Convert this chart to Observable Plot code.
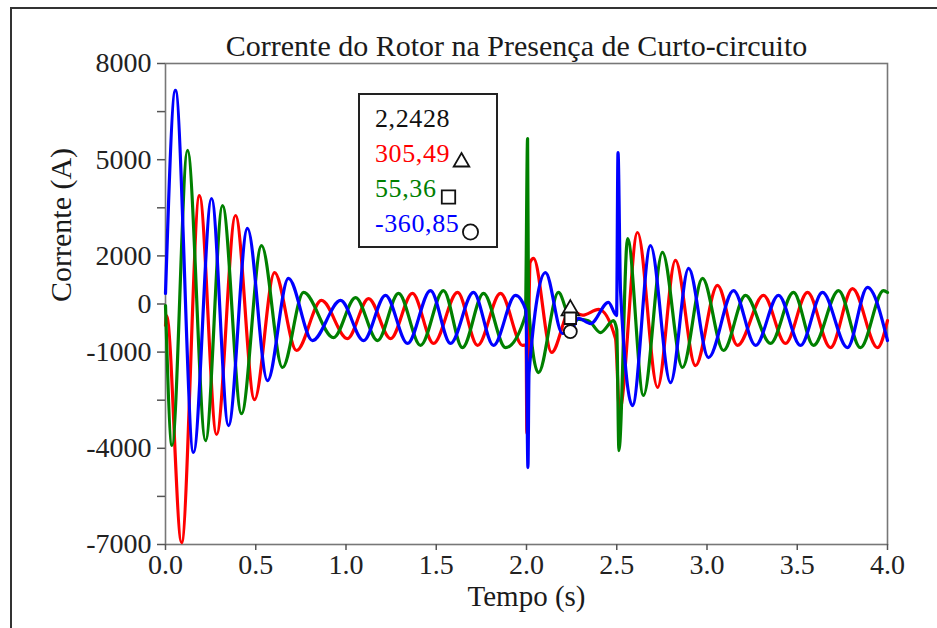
<!DOCTYPE html>
<html>
<head>
<meta charset="utf-8">
<script src="https://cdn.jsdelivr.net/npm/d3@7"></script>
<script src="https://cdn.jsdelivr.net/npm/@observablehq/plot@0.6"></script>
<style>
  html, body { margin: 0; padding: 0; background: #fff; }
  #page { position: relative; width: 937px; height: 628px; overflow: hidden; background: #fff; }
  #edge { position: absolute; left: 10px; top: 7px; width: 960px; height: 660px;
          border-left: 2px solid #333; border-top: 2px solid #333; }
  #chart { position: absolute; left: 0; top: 0; }
  #readout { position: absolute; left: 358px; top: 93px; width: 136px; height: 151px;
             border: 2px solid #222; background: #fff;
             font-family: "Liberation Serif", "Times New Roman", serif; font-size: 26px;
             letter-spacing: 0.6px; }
  #readout .row { position: absolute; left: 15px; white-space: nowrap; line-height: 1; }
  #readout svg { vertical-align: -8px; margin-left: 3px; overflow: visible; }
</style>
</head>
<body>
<div id="page">
  <div id="edge"></div>
  <div id="chart"></div>
  <div id="readout"></div>
</div>
<script>
// Rotor phase currents [time (s), current (A)] — peaks, troughs and fault transients
const phaseA = [
  [0, -170], [0.006, 140], [0.089, -6940], [0.188, 3880], [0.283, -3570], [0.388, 3260],
  [0.493, -2480], [0.604, 1480], [0.726, -950], [0.864, 610], [1.008, -580], [1.125, 670],
  [1.247, -580], [1.368, 830], [1.485, -730], [1.618, 860], [1.729, -790], [1.856, 830],
  [1.978, -790], [1.998, -780], [2.002, -3540], [2.020, 1800], [2.039, 1920], [2.139, -1010],
  [2.2428, 305.49], [2.31, 150], [2.40, 330], [2.493, -580], [2.515, -2820], [2.615, 2730],
  [2.726, -2100], [2.825, 1860], [2.936, -1420], [3.058, 1080], [3.169, -790], [3.313, 770],
  [3.435, -730], [3.557, 860], [3.684, -860], [3.806, 980], [3.945, -860], [4.0, -20]
];
const phaseB = [
  [0, 450], [0.036, -3910], [0.122, 5290], [0.222, -3760], [0.316, 3570], [0.421, -2920],
  [0.532, 2320], [0.648, -1480], [0.765, 860], [0.931, -550], [1.053, 700], [1.175, -640],
  [1.291, 830], [1.413, -790], [1.540, 920], [1.645, -860], [1.762, 830], [1.884, -860],
  [1.994, 140], [2.006, 5660], [2.011, 450], [2.066, -1640], [2.177, 860], [2.2428, 55.36],
  [2.343, -20], [2.41, -390], [2.482, -20], [2.5, -300], [2.512, -4070], [2.56, 2540],
  [2.648, -2350], [2.753, 2110], [2.864, -1480], [2.975, 1300], [3.091, -950], [3.213, 770],
  [3.352, -730], [3.479, 860], [3.590, -790], [3.729, 920], [3.850, -860], [3.978, 920],
  [4.0, 860]
];
const phaseC = [
  [0, 830], [0.055, 7160], [0.155, -4130], [0.255, 3790], [0.349, -3290], [0.454, 2860],
  [0.565, -1890], [0.681, 1300], [0.814, -640], [0.970, 610], [1.097, -640], [1.219, 770],
  [1.341, -730], [1.468, 920], [1.579, -730], [1.706, 860], [1.817, -790], [1.939, 770],
  [1.997, 300], [2.008, -4600], [2.014, -1650], [2.105, 1480], [2.199, -420], [2.2428, -360.85],
  [2.288, 50], [2.355, -110], [2.454, 550], [2.499, 140], [2.507, 5225], [2.521, 900],
  [2.587, -2670], [2.687, 2320], [2.798, -1950], [2.898, 1610], [3.008, -1170], [3.147, 920],
  [3.269, -790], [3.396, 770], [3.518, -790], [3.640, 860], [3.778, -860], [3.889, 1020],
  [4.0, -640]
];

// Cursor readout
const cursorTime = 2.2428;
const cursorValues = [305.49, 55.36, -360.85];
const cursorSymbols = ["triangle", "square", "circle"];
const phaseColors = ["#ff0000", "#008000", "#0000ff"];

// Axes
const xTicks = [0, 0.5, 1, 1.5, 2, 2.5, 3, 3.5, 4];
const xTickLabels = ["0.0", "0.5", "1.0", "1.5", "2.0", "2.5", "3.0", "3.5", "4.0"];
const yTicks = [-7000, -5500, -4000, -2500, -1000, 500, 2000, 3500, 5000, 6500, 8000];
const yTickLabels = ["-7000", "", "-4000", "", "-1000", "0", "2000", "", "5000", "", "8000"];

const titleText = "Corrente do Rotor na Presença de Curto-circuito";
const xLabel = "Tempo (s)";
const yLabel = "Corrente (A)";

const serif = "Liberation Serif, Times New Roman, serif";
const xFmt = new Map(xTicks.map((v, i) => [v, xTickLabels[i]]));
const yFmt = new Map(yTicks.map((v, i) => [v, yTickLabels[i]]));
const comma = v => String(v).replace(".", ",");

const cursor = cursorValues.map((v, i) => ({t: cursorTime, v, symbol: cursorSymbols[i]}));
const line = (data, color) =>
  Plot.line(data, {x: d => d[0], y: d => d[1], stroke: color, strokeWidth: 3.2,
                   curve: "monotone-x", strokeLinejoin: "round"});

const chart = Plot.plot({
  width: 937,
  height: 628,
  marginLeft: 165,
  marginRight: 50,
  marginTop: 63,
  marginBottom: 84,
  style: {fontFamily: serif, background: "transparent", color: "#222"},
  x: {domain: [0, 4]},
  y: {domain: [-7000, 8000]},
  marks: [
    Plot.frame({stroke: "#777", strokeWidth: 1.6}),
    Plot.axisX({ticks: xTicks, tickFormat: d => xFmt.get(d), tickSize: 6, tickPadding: 4,
                fontSize: 28, stroke: "#555", strokeWidth: 1.5, label: null}),
    Plot.axisY({ticks: yTicks, tickFormat: d => yFmt.get(d), tickSize: 8, tickPadding: 6,
                fontSize: 28, stroke: "#555", strokeWidth: 1.5, label: null}),
    line(phaseA, phaseColors[0]),
    line(phaseB, phaseColors[1]),
    line(phaseC, phaseColors[2]),
    Plot.dot(cursor, {x: "t", y: "v", symbol: "symbol", r: 6.5, fill: "white",
                      stroke: "#111", strokeWidth: 1.8}),
    Plot.text([titleText], {frameAnchor: "top", dx: -10, dy: -17.6, lineAnchor: "middle",
                            fontSize: 30, fill: "#1a1a1a"}),
    Plot.text([xLabel], {frameAnchor: "bottom", dy: 52, lineAnchor: "middle",
                         fontSize: 29, fill: "#1a1a1a"}),
    Plot.text([yLabel], {frameAnchor: "left", dx: -104, dy: -2, rotate: -90,
                         lineAnchor: "middle", fontSize: 30, fill: "#1a1a1a"})
  ]
});
document.getElementById("chart").append(chart);

// Readout box: cursor time and the three phase values with their markers
const box = d3.select("#readout");
const rowTops = [11, 46, 81, 116];
const symbolSizes = [105, 180, 180];
box.append("div").attr("class", "row").style("top", rowTops[0] + "px")
   .style("color", "#111").text(comma(cursorTime));
const symbolTypes = {triangle: d3.symbolTriangle, square: d3.symbolSquare, circle: d3.symbolCircle};
cursorValues.forEach((v, i) => {
  const row = box.append("div").attr("class", "row").style("top", rowTops[i + 1] + "px")
                 .style("color", phaseColors[i]);
  row.append("span").text(comma(v));
  const s = row.append("svg").attr("width", 17).attr("height", 16);
  s.append("path")
   .attr("transform", "translate(8.5,8)")
   .attr("d", d3.symbol(symbolTypes[cursorSymbols[i]], symbolSizes[i])())
   .attr("fill", "white").attr("stroke", "#111").attr("stroke-width", 1.8);
});
</script>
</body>
</html>
